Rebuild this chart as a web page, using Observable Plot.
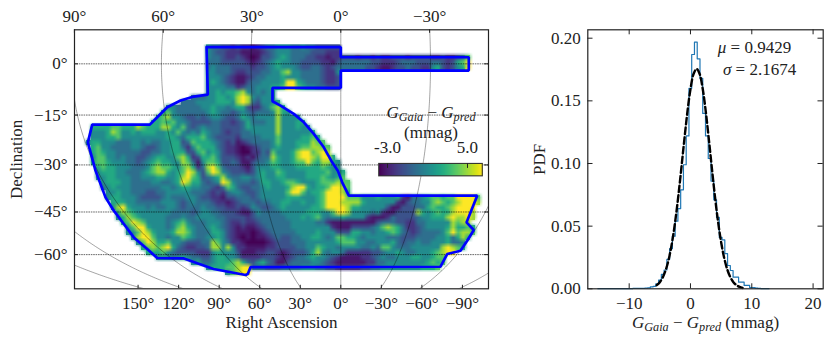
<!DOCTYPE html>
<html>
<head>
<meta charset="utf-8">
<script src="https://cdn.jsdelivr.net/npm/d3@7"></script>
<script src="https://cdn.jsdelivr.net/npm/@observablehq/plot@0.6"></script>
<style>
html,body{margin:0;padding:0;background:#fff}
#wrap{display:flex;width:831px;height:342px;overflow:hidden}
svg{display:block}
</style>
</head>
<body>
<div id="wrap"></div>
<script>
// --- Map values: each row is a run of digits 0..9 (low..high G_Gaia - G_pred).
const mapColumns = 81, mapRowsCount = 47;
const mapStart = [25,25,25,25,25,25,25,25,25,25,22,20,17,16,15,14,2,2,2,1,2,2,2,2,3,3,3,4,4,5,5,6,6,7,7,8,9,9,10,11,12,13,15,22,25,29];
const mapRows = [
"544332322123445554454433333",
"543322211112345554444333222",
"544322321013345654443322122"+"3332332322"+"3332333322"+"322347",
"444333332123456554433332213"+"4444443322"+"2344433344"+"323679",
"454443333233456555433443234"+"4444433211"+"2334332256"+"323569",
"554443223334455785544443225",
"555432112344555655544443223",
"565432113445555699654443223",
"555544234455566799765544333",
"55656678545455",
"444"+"55665689854555",
"44455"+"55666589843555"+"6",
"55444445"+"56554566322457"+"86",
"675444444"+"56544345434445"+"865",
"6785543343"+"45543346545555"+"85555",
"66767554333"+"34433234644455"+"855566",
"66667766687666886574345"+"44433334655555"+"8555655",
"55568755656665565754546"+"54432334455555"+"85555556",
"55566755555555566546667"+"54333324444555"+"755556676",
"566555444554544556634766"+"65432312344445"+"7555666877",
"67554444554334556642576"+"66432210123445"+"65556778877",
"67655444443344556663367"+"56532210022437"+"55568997898",
"57755454433456655786236"+"67533321213448"+"655689987996",
"67765554434567665587415"+"77633431134457"+"6556779768865",
"6766555444578776578624"+"89743332135556"+"6555666667655",
"5666554445678865679853"+"79854333235655"+"76555566667556",
"5566555445556655689763"+"45685445545655"+"66555566676567",
"566655444455445698664"+"34598544434665"+"567765556777877",
"456555444444554566554"+"43247643344565"+"556899656679987",
"55655444334455555444"+"32324554334555"+"557997566799986",
"56655543333454445543"+"32213344434555"+"556665556799997"+"77555655562144567767799997",
"6665544444555434544"+"43221234443445"+"566556556799988"+"88655555521344557876789998",
"5896555454455434445"+"44332232354334"+"565555566799998"+"6655555311333446766789999",
"687655555554444345"+"54433321135444"+"455555666557998"+"5555452113333865676689998",
"568765555544454455"+"55443333234444"+"445556567545565"+"5552111243333455666898898",
"67987555545675444"+"55543223223444"+"444555554421111"+"1111134443"+"3224455555"+"8788",
"5799655545786544"+"56543212112344"+"444555555552111"+"3333457876"+"4223455556"+"86676",
"5579865556887544"+"46653211101234"+"444455556555333"+"6655455676"+"4323444457"+"97887",
"589975545576544"+"55653210101123"+"433445566545776"+"6545555444"+"3334444556"+"4686",
"57986675543334"+"48754221000012"+"333444555555677"+"7554455564"+"3445445556"+"445",
"6787896432233"+"48858522111122"+"333344557655455"+"5544547754"+"4455555589"+"876",
"666754333322"+"25655531112233"+"212333468545542"+"2222334556"+"5445556789"+"9",
"5554565443"+"35665542222333"+"212344565543211"+"1122345445556655677",
"564"+"45666786435643"+"113444455432111"+"1112244555"+"555556767",
"566677899"+"4443334444555"+"4433"+"22222"+"3344"+"55555555"+"6667",
"57899"
];
const colorDomain = [-3.83, 6.53];
const cellValue = d => colorDomain[0] + Math.pow(+d / 9, 1.25) * (colorDomain[1] - colorDomain[0]);
const mapGrid = new Array(mapColumns * mapRowsCount).fill(NaN);
mapRows.forEach((row, r) => { [...row].forEach((d, c) => { mapGrid[r * mapColumns + mapStart[r] + c] = cellValue(d); }); });

// Extents of the map grid, in equal-area map units (u: RA·cosθ in degrees, v: sinθ)
const gridU = [87.06, -48.39], gridV = [0.0772, -0.8628];
const mapDomainU = [89.07, -49.4], mapDomainV = [0.136, -0.899];

// Survey outline, map units
const outlineU = [44.9,0,0,-42.8,-42.8,0,0,22.84,22.84,20.17,15.72,12.37,9.03,5.69,2.88,1.0,-0.47,-2.68,-45.62,-42.04,-44.48,-42.27,-40.03,-35.58,-33.34,30.2,31.1,31.87,42.57,52.5,61.4,64.75,69.23,72.57,75.92,78.7,82.04,84.6,83.14,63.88,61.4,58.06,53.6,49.16,44.48,44.9];
const outlineV = [0.0664,0.0664,0.0264,0.0264,-0.0268,-0.0268,-0.096,-0.096,-0.1496,-0.1668,-0.2,-0.2336,-0.28,-0.3336,-0.3936,-0.4268,-0.4736,-0.5268,-0.5268,-0.6336,-0.664,-0.7068,-0.7468,-0.76,-0.8108,-0.8124,-0.84,-0.844,-0.82,-0.7776,-0.776,-0.74,-0.6936,-0.64,-0.5868,-0.5336,-0.4268,-0.3136,-0.2428,-0.2428,-0.2136,-0.1736,-0.1468,-0.1308,-0.1228,0.0664];

// Graticule and axes
const decTicks = [0,-15,-30,-45,-60];
const raTop = [90,60,30,0,-30];
const raBottom = [150,120,90,60,30,0,-30,-60,-90];
const topCos = 0.99, bottomCos = 0.452;
const fmtDeg = d => (d < 0 ? "\u2212" + (-d) : d) + "\u00b0";
function theta(dec){ const t = Math.PI * Math.sin(dec * Math.PI / 180);
  let lo = -Math.PI / 2, hi = Math.PI / 2;
  for (let i = 0; i < 50; i++) { const a = (lo + hi) / 2; if (2*a + Math.sin(2*a) < t) lo = a; else hi = a; }
  return (lo + hi) / 2; }
const decV = d => Math.sin(theta(d));
const meridianDecs = d3.range(14, -89, -1);
const meridians = raBottom.flatMap(ra => meridianDecs.map(dec => ({ra, u: ra*Math.cos(theta(dec)), v: decV(dec)})));

// Colour bar
const barLow = -15.62, barPerUnit = -3.344;
const barU = m => barLow + (m + 3) * barPerUnit;
const barV = [-0.4, -0.4496];
const barTicks = [-3, 5];
const barSteps = d3.range(colorDomain[0], colorDomain[1], 0.1);

// Histogram (bin left edges and PDF heights) and fitted curve
const histEdges = [-15.1,-10.6,-9.4,-8.35,-7.45,-7.0,-6.55,-6.1,-5.65,-5.2,-4.75,-4.3,-3.85,-3.4,-2.95,-2.5,-2.05,-1.6,-1.15,-0.7,-0.25,0.2,0.65,1.1,1.55,2.0,2.45,2.9,3.35,3.8,4.25,4.7,5.15,5.6,6.05,6.5,6.95,7.4,7.85,8.3,8.75,9.2,9.65,10.1,10.55,11.0,11.45,12.8];
const histPdf = [0.0001,0.0002,0.0003,0.0004,0.0005,0.0008,0.0015,0.002,0.004,0.007,0.0115,0.015,0.0235,0.032,0.042,0.054,0.064,0.079,0.099,0.122,0.16,0.187,0.1968,0.1835,0.168,0.14,0.122,0.104,0.086,0.071,0.057,0.041,0.039,0.028,0.0186,0.0146,0.0093,0.0093,0.0053,0.0053,0.0027,0.0027,0.001,0.001,0.0005,0.0003,0.0002,0.0001];
const fitX = [-5.5,-5,-4.5,-4,-3.5,-3,-2.5,-2,-1.5,-1,-0.5,0,0.5,1,1.5,2,2.5,3,3.5,4,4.5,5,5.5,6,6.5,7,7.5,8,8.5];
const fitPdf = [0.0029,0.0053,0.0093,0.0155,0.0246,0.0372,0.0535,0.0733,0.0958,0.1191,0.1412,0.1594,0.1714,0.1756,0.1714,0.1594,0.1412,0.1191,0.0958,0.0733,0.0535,0.0372,0.0246,0.0155,0.0093,0.0053,0.0029,0.0015,0.0007];
const xTicks = [-10,0,10,20];
const yTicks = [0,0.05,0.10,0.15,0.20];

const FONT = "Liberation Serif";
const INK = "#222";
const baseStyle = {fontFamily: FONT, fontSize: "17px", color: INK, background: "#fff"};

// math-like text: *italic* and _{subscript}
function mathify(svg){
  d3.select(svg).selectAll("text").each(function(){
    const s = this.textContent;
    if (!/[*]|_\{/.test(s)) return;
    this.textContent = "";
    const re = /\*([^*]+)\*|_\{([^}]+)\}|([^*_]+)/g; let m, shift = 0;
    while ((m = re.exec(s))) {
      const t = d3.select(this).append("tspan");
      if (m[1]) { t.attr("font-style","italic").text(m[1]); if (shift){t.attr("dy",-shift);shift=0;} }
      else if (m[2]) { t.attr("font-style","italic").attr("font-size","0.72em").attr("dy",3.5).text(m[2]); shift=3.5; }
      else { t.text(m[3]); if (shift){t.attr("dy",-shift);shift=0;} }
    }
  });
}

const tickU = 1.3, tickV = 0.014;
const uLeft = mapDomainU[0], uRight = mapDomainU[1], vTop = mapDomainV[0], vBot = mapDomainV[1];
const rasterOptions = {width: mapColumns, height: mapRowsCount, x1: gridU[0], x2: gridU[1], y1: gridV[0], y2: gridV[1], fill: d => d};
const mapPlot = Plot.plot({
  width: 500, height: 342,
  marginLeft: 74, marginRight: 12, marginTop: 29.3, marginBottom: 53.7,
  style: baseStyle,
  x: {domain: mapDomainU, axis: null},
  y: {domain: [vBot, vTop], axis: null},
  color: {type: "linear", scheme: "viridis", domain: colorDomain},
  marks: [
    Plot.raster(mapGrid, {...rasterOptions, imageRendering: "pixelated"}),
    Plot.raster(mapGrid, {...rasterOptions, imageRendering: "auto"}),
    Plot.ruleY(decTicks.map(decV), {stroke: "#000", strokeWidth: 0.7, strokeDasharray: "1.6 0.8", strokeOpacity: 0.85}),
    Plot.line(meridians, {x: "u", y: "v", z: "ra", stroke: "#000", strokeWidth: 0.6, strokeDasharray: "1.4 0.8", strokeOpacity: 0.6, clip: true}),
    Plot.line(outlineU.map((u,i)=>({u, v: outlineV[i]})), {x: "u", y: "v", stroke: "#0000ff", strokeWidth: 2.7, strokeLinejoin: "miter", curve: "linear"}),
    // colour bar
    Plot.rect(barSteps, {x1: d => barU(d), x2: d => barU(d + 0.1), y1: barV[0], y2: barV[1], fill: d => d + 0.05, shapeRendering: "crispEdges"}),
    Plot.rect([0], {x1: barU(colorDomain[0]), x2: barU(colorDomain[1]), y1: barV[0], y2: barV[1], stroke: "#333", strokeWidth: 1.1, fill: "none"}),
    Plot.ruleX(barTicks.map(barU), {y1: barV[0], y2: barV[0] - 0.018, stroke: "#222", strokeWidth: 1}),
    Plot.text(barTicks, {x: d => barU(d), y: barV[0], dy: -11, text: d => (d < 0 ? "-" + (-d).toFixed(1) : d.toFixed(1)), lineAnchor: "bottom", fontSize: 17}),
    Plot.text(["*G*_{Gaia} \u2212 *G*_{pred}", "(mmag)"], {x: [-30.17, -30.17], y: [-0.2148, -0.2948], text: d => d, lineAnchor: "bottom", fontSize: 17}),
    // ticks
    Plot.ruleY(decTicks.map(decV), {x1: uLeft, x2: uLeft - tickU, stroke: INK, strokeWidth: 1}),
    Plot.ruleY(decTicks.map(decV), {x1: uRight, x2: uRight + tickU, stroke: INK, strokeWidth: 1}),
    Plot.ruleX(raTop.map(r => r * topCos), {y1: vTop, y2: vTop - tickV, stroke: INK, strokeWidth: 1}),
    Plot.ruleX(raBottom.map(r => r * bottomCos), {y1: vBot, y2: vBot + tickV, stroke: INK, strokeWidth: 1}),
    Plot.axisY(decTicks.map(decV), {anchor: "left", tickSize: 0, tickPadding: 7, label: null, tickFormat: (v, i) => fmtDeg(decTicks[i]), fontSize: 17}),
    Plot.axisX(raTop.map(r => r * topCos), {anchor: "top", tickSize: 0, tickPadding: 8, label: null, tickFormat: (u, i) => fmtDeg(raTop[i]), fontSize: 17}),
    Plot.axisX(raBottom.map(r => r * bottomCos), {anchor: "bottom", tickSize: 0, tickPadding: 8, label: null, tickFormat: (u, i) => fmtDeg(raBottom[i]), fontSize: 17}),
    Plot.text(["Right Ascension"], {frameAnchor: "bottom", dx: 0, dy: 39, text: d => d, fontSize: 17, textAnchor: "middle", lineAnchor: "bottom"}),
    Plot.text(["Declination"], {frameAnchor: "left", dx: -58, text: d => d, fontSize: 17, rotate: -90, textAnchor: "middle", lineAnchor: "middle"}),
    Plot.frame({stroke: INK, strokeWidth: 1.2})
  ]
});
mathify(mapPlot);

const hx = [-16.75, 21.65], hy = [0, 0.2067];
const histPlot = Plot.plot({
  width: 331, height: 342,
  marginLeft: 87.3, marginRight: 8.3, marginTop: 29.3, marginBottom: 53.7,
  style: baseStyle,
  x: {domain: hx, axis: null},
  y: {domain: hy, axis: null},
  marks: [
    Plot.line(histEdges.map((x,i)=>({x, y: histPdf[i]})), {x: "x", y: "y", curve: "step-after", stroke: "#1f77b4", strokeWidth: 1.2}),
    Plot.line(fitX.map((x,i)=>({x, y: fitPdf[i]})), {x: "x", y: "y", stroke: "#000", strokeWidth: 2.4, strokeDasharray: "6.5 3.2", curve: "catmull-rom"}),
    Plot.ruleY(yTicks, {x1: hx[0], x2: hx[0] + 0.85, stroke: INK, strokeWidth: 1}),
    Plot.ruleY(yTicks, {x1: hx[1], x2: hx[1] - 0.85, stroke: INK, strokeWidth: 1}),
    Plot.ruleX(xTicks, {y1: hy[0], y2: hy[0] + 0.004, stroke: INK, strokeWidth: 1}),
    Plot.ruleX(xTicks, {y1: hy[1], y2: hy[1] - 0.004, stroke: INK, strokeWidth: 1}),
    Plot.axisY(yTicks, {anchor: "left", tickSize: 0, tickPadding: 7, label: null, tickFormat: d3.format(".2f"), fontSize: 17}),
    Plot.axisX(xTicks, {anchor: "bottom", tickSize: 0, tickPadding: 8, label: null, tickFormat: d => (d < 0 ? "\u2212" + (-d) : "" + d), fontSize: 17}),
    Plot.text(["*\u03bc* = 0.9429", "*\u03c3* = 2.1674"], {x: [10.44, 11.26], y: [0.1878, 0.171], text: d => d, lineAnchor: "bottom", fontSize: 17}),
    Plot.text(["*G*_{Gaia} \u2212 *G*_{pred} (mmag)"], {frameAnchor: "bottom", dy: 39, text: d => d, fontSize: 17, textAnchor: "middle", lineAnchor: "bottom"}),
    Plot.text(["PDF"], {frameAnchor: "left", dx: -48.3, text: d => d, fontSize: 17, rotate: -90, textAnchor: "middle", lineAnchor: "middle"}),
    Plot.frame({stroke: INK, strokeWidth: 1.2})
  ]
});
mathify(histPlot);

document.getElementById("wrap").append(mapPlot, histPlot);
</script>
</body>
</html>
